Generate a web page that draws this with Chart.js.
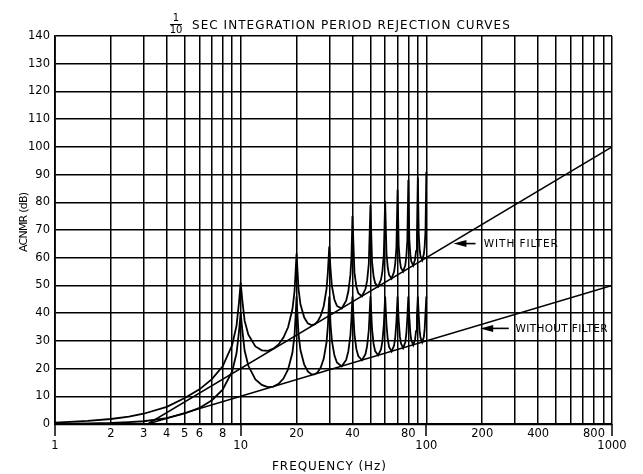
<!DOCTYPE html>
<html>
<head>
<meta charset="utf-8">
<script src="https://cdn.jsdelivr.net/npm/chart.js@4.4.0/dist/chart.umd.min.js"></script>
<style>
body { margin: 0; background: #fff; }
#wrap { width: 643px; height: 474px; }
</style>
</head>
<body>
<div id="wrap"><canvas id="myChart"></canvas></div>
<script>
// 1/10 sec integration period rejection curves
'use strict';

// frequencies (Hz) where both rejection curves were read
const freqs = [
    1, 1.5, 2, 2.5, 3, 4, 5, 6, 7, 8, 9, 9.5, 9.8, 10,
    10.2, 10.5, 11, 12, 13, 14, 15, 16, 17, 18, 19, 19.5, 19.8, 20,
    20.2, 20.5, 21, 22, 23, 24, 25, 26, 27, 28, 29, 29.5, 30,
    30.5, 31, 32, 33, 35, 37, 38, 39, 39.5, 40,
    41, 42, 43, 45, 47, 48, 49, 50,
    51, 52, 53, 55, 57, 58, 59, 60,
    61, 62, 63, 65, 67, 68, 69, 70,
    71, 72, 73, 75, 77, 78, 79, 80,
    81, 82, 83, 85, 87, 88, 89, 90,
    91, 92, 93, 95, 97, 98, 99, 100
];
// ACNMR (dB) without filter
const withoutFilterDb = [
    0.1, 0.2, 0.4, 0.7, 1.0, 2.1, 3.8, 5.8, 8.6, 12.4, 19.0, 25.5, 33.5, 40,
    34.2, 26.5, 21.0, 16.1, 14.1, 13.3, 13.5, 14.5, 16.4, 19.7, 25.7, 31.9, 39.9, 46,
    40.1, 32.3, 26.6, 21.4, 19.0, 18.0, 17.9, 18.7, 20.4, 23.5, 29.4, 35.5, 46,
    35.7, 30.0, 24.7, 22.2, 20.8, 23.1, 26.2, 32.0, 38.0, 46,
    32.4, 27.0, 24.5, 23.0, 25.2, 28.2, 33.9, 46,
    34.3, 28.9, 26.3, 24.8, 26.9, 29.8, 35.6, 46,
    35.9, 30.4, 27.8, 26.2, 28.3, 31.2, 36.9, 46,
    37.2, 31.7, 29.1, 27.4, 29.5, 32.4, 38.1, 46,
    38.3, 32.8, 30.2, 28.5, 30.6, 33.5, 39.1, 46,
    39.3, 33.8, 31.2, 29.5, 31.5, 34.4, 40.1, 46
];
// ACNMR (dB) with filter
const withFilterDb = [
    0.5, 1.1, 1.8, 2.7, 3.7, 6.2, 9.4, 12.5, 16.2, 20.8, 28.5, 35.5, 44.0, 51,
    44.8, 37.3, 32.2, 28.0, 26.6, 26.4, 27.2, 28.7, 31.2, 34.9, 41.4, 47.8, 55.9, 61.5,
    56.3, 48.6, 43.1, 38.4, 36.3, 35.7, 35.9, 37.0, 39.1, 42.5, 48.7, 54.9, 64,
    55.5, 49.8, 44.8, 42.6, 41.7, 44.5, 47.8, 53.8, 60.0, 75,
    54.7, 49.5, 47.2, 46.1, 48.7, 51.8, 57.8, 79,
    58.5, 53.2, 50.8, 49.6, 52.1, 55.1, 61.0, 80.5,
    61.6, 56.3, 53.8, 52.5, 54.9, 57.9, 63.7, 84.5,
    64.2, 58.9, 56.4, 55.0, 57.3, 60.3, 66.1, 88,
    66.5, 61.2, 58.6, 57.2, 59.4, 62.4, 68.2, 89,
    68.5, 63.2, 60.6, 59.1, 61.3, 64.2, 70.0, 91
];
// straight asymptote lines
const lineFreqs = [3.16, 1000];
const withLineDb = [0, 100];
const withoutLineDb = [0, 50];

// axis ticks
const gridFreqs = [1, 2, 3, 4, 5, 6, 7, 8, 9, 10, 20, 30, 40, 50, 60, 70, 80, 90,
    100, 200, 300, 400, 500, 600, 700, 800, 900, 1000];
const labelFreqs = [2, 3, 4, 5, 6, 8, 20, 40, 80, 200, 400, 800];
const decadeFreqs = [1, 10, 100, 1000];

// callouts, anchored in data units
const callouts = [
    { text: 'WITH FILTER', db: 65.1, tip: 140, tail: 184, textFreq: 204, width: 74 },
    { text: 'WITHOUT FILTER', db: 34.5, tip: 195, tail: 278, textFreq: 302, width: 92 }
];

const FONT = '"DejaVu Sans", sans-serif';

function toPoints(xs, ys) {
    return xs.map((x, i) => ({ x: x, y: ys[i] }));
}

function spacedText(ctx, text, left, baseline, width) {
    ctx.letterSpacing = '0px';
    let w = ctx.measureText(text).width;
    let ls = (width - w) / (text.length - 1);
    ctx.letterSpacing = ls.toFixed(2) + 'px';
    ctx.textAlign = 'left';
    ctx.fillText(text, left, baseline);
    ctx.letterSpacing = '0px';
}

const paperText = {
    id: 'paperText',
    afterDraw(chart) {
        const ctx = chart.ctx;
        const xs = chart.scales.x;
        const ys = chart.scales.y;
        const area = chart.chartArea;
        ctx.save();
        ctx.fillStyle = '#000';
        ctx.strokeStyle = '#000';

        // long ticks at decades
        ctx.lineWidth = 1.5;
        decadeFreqs.forEach((f) => {
            let px = Math.round(xs.getPixelForValue(f));
            ctx.beginPath();
            ctx.moveTo(px, area.bottom);
            ctx.lineTo(px, area.bottom + 12);
            ctx.stroke();
        });

        // title with stacked fraction
        ctx.textBaseline = 'alphabetic';
        ctx.font = '10px ' + FONT;
        ctx.textAlign = 'center';
        ctx.fillText('1', 176, 21);
        ctx.fillText('10', 176, 33);
        ctx.lineWidth = 1;
        ctx.beginPath();
        ctx.moveTo(170, 24.5);
        ctx.lineTo(182, 24.5);
        ctx.stroke();
        ctx.font = '12px ' + FONT;
        spacedText(ctx, 'SEC INTEGRATION PERIOD REJECTION CURVES', 192, 29, 318);

        // axis titles
        ctx.font = '12px ' + FONT;
        spacedText(ctx, 'FREQUENCY (Hz)', 272, 470, 114);
        ctx.save();
        ctx.translate(27, 222);
        ctx.rotate(-Math.PI / 2);
        ctx.font = '11px ' + FONT;
        spacedText(ctx, 'ACNMR (dB)', -30, 0, 60);
        ctx.restore();

        // callouts with arrows
        ctx.font = '10.5px ' + FONT;
        callouts.forEach((c) => {
            let py = ys.getPixelForValue(c.db);
            let tipX = xs.getPixelForValue(c.tip);
            let tailX = xs.getPixelForValue(c.tail);
            ctx.lineWidth = 1.6;
            ctx.beginPath();
            ctx.moveTo(tipX + 8, py);
            ctx.lineTo(tailX, py);
            ctx.stroke();
            ctx.beginPath();
            ctx.moveTo(tipX, py);
            ctx.lineTo(tipX + 13, py - 3.5);
            ctx.lineTo(tipX + 13, py + 3.5);
            ctx.closePath();
            ctx.fill();
            ctx.textBaseline = 'middle';
            spacedText(ctx, c.text, xs.getPixelForValue(c.textFreq), py + 0.5, c.width);
        });
        ctx.restore();
    }
};

function main() {
    const lineStyle = {
        showLine: true,
        pointRadius: 0,
        borderColor: '#000',
        backgroundColor: '#000',
        fill: false,
        tension: 0
    };

    new Chart('myChart', {
        type: 'scatter',
        data: {
            datasets: [
                Object.assign({ label: 'with filter', data: toPoints(freqs, withFilterDb), borderWidth: 1.8 }, lineStyle),
                Object.assign({ label: 'without filter', data: toPoints(freqs, withoutFilterDb), borderWidth: 1.8 }, lineStyle),
                Object.assign({ label: 'with filter line', data: toPoints(lineFreqs, withLineDb), borderWidth: 1.5 }, lineStyle),
                Object.assign({ label: 'without filter line', data: toPoints(lineFreqs, withoutLineDb), borderWidth: 1.5 }, lineStyle)
            ]
        },
        options: {
            responsive: true,
            maintainAspectRatio: false,
            animation: false,
            events: [],
            layout: { padding: { top: 36, right: 31, left: 0, bottom: 0 } },
            plugins: {
                legend: { display: false },
                tooltip: { enabled: false },
                title: { display: false }
            },
            scales: {
                x: {
                    type: 'logarithmic',
                    min: 1,
                    max: 1000,
                    afterBuildTicks: (scale) => {
                        scale.ticks = gridFreqs.map((v) => ({ value: v }));
                    },
                    afterFit: (scale) => { scale.height = 50; },
                    grid: { color: '#000', lineWidth: 1.5, drawTicks: false },
                    border: { color: '#000', width: 2 },
                    ticks: {
                        autoSkip: false,
                        maxRotation: 0,
                        padding: 4,
                        color: '#000',
                        font: { family: FONT, size: 11.5, lineHeight: 1.05 },
                        callback: (value) => {
                            if (decadeFreqs.includes(value)) return ['', String(value)];
                            if (labelFreqs.includes(value)) return String(value);
                            return '';
                        }
                    }
                },
                y: {
                    min: 0,
                    max: 140,
                    afterFit: (scale) => { scale.width = 55; },
                    grid: {
                        color: '#000',
                        lineWidth: (c) => (c.tick && c.tick.value === 0 ? 2.2 : 1.5),
                        drawTicks: false
                    },
                    border: { color: '#000', width: 1.8 },
                    ticks: {
                        stepSize: 10,
                        padding: 5,
                        color: '#000',
                        font: { family: FONT, size: 11.5 }
                    }
                }
            }
        },
        plugins: [paperText]
    });
}

window.onload = main;
</script>
</body>
</html>
